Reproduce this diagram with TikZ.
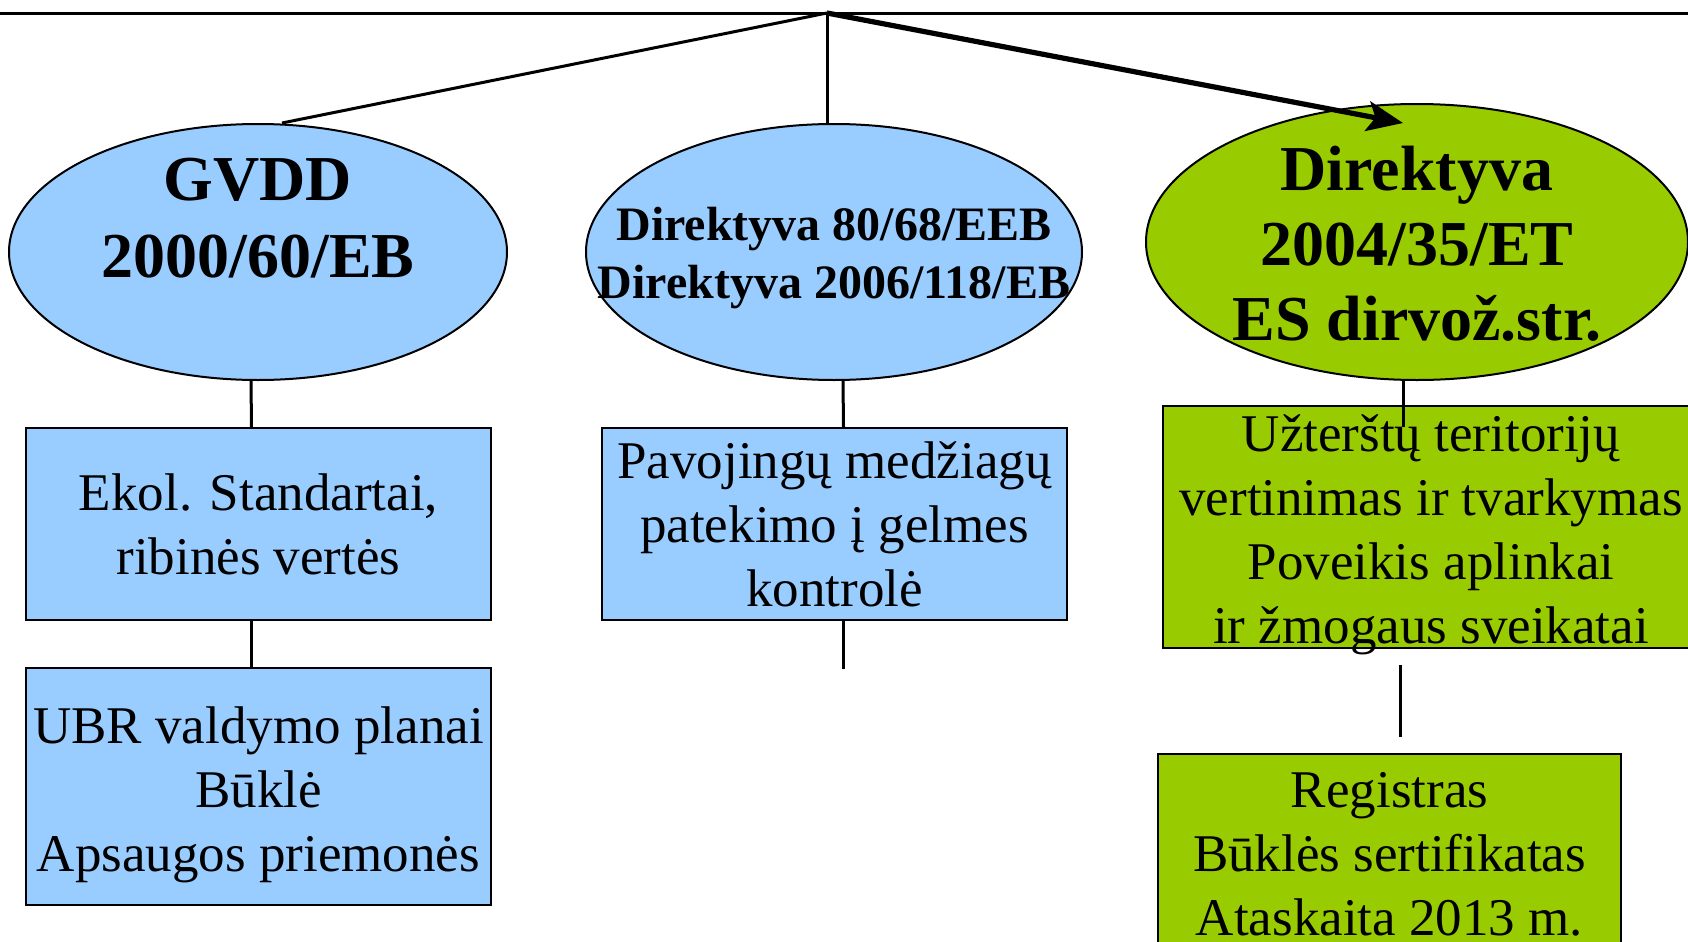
\documentclass[tikz,border=0pt]{standalone}
\usepackage{fontspec}
\setmainfont{Liberation Serif}
\usetikzlibrary{shapes.geometric,arrows.meta}
\definecolor{skyblue}{HTML}{99CCFF}
\definecolor{leafgreen}{HTML}{99CC00}
\begin{document}
\begin{tikzpicture}[x=0.5pt,y=-0.5pt,line width=1.5pt,
    directive/.style={ellipse, draw, line width=1pt, inner sep=0pt},
    textbox/.style={rectangle, draw, line width=1.2pt, inner sep=0pt, align=center,
        font=\fontsize{26.5}{32}\selectfont},
    boxtext/.style={align=center, font=\fontsize{26.5}{32}\selectfont, yshift=-4pt},
    bigtitle/.style={align=center, font=\bfseries\fontsize{32}{38.5}\selectfont}]
    \useasboundingbox (0,0) rectangle (1688,942);
    % top rail
    \coordinate (RailL) at (0,13);
    \coordinate (RailR) at (1688,13);
    \coordinate (Top) at (827,13);
    \draw (RailL) -- (RailR);
    % directives
    \node[directive, fill=skyblue, minimum width=249pt, minimum height=128pt,
        label={[bigtitle, yshift=17pt]center:{GVDD\\2000/60/EB}}] (GVDD) at (258,252) {};
    \node[directive, fill=skyblue, minimum width=248pt, minimum height=128pt,
        label={[align=center, yshift=-3pt, font=\bfseries\fontsize{24}{29}\selectfont]center:{Direktyva 80/68/EEB\\Direktyva 2006/118/EB}}] (Dir80) at (834,252) {};
    \node[directive, fill=leafgreen, minimum width=271pt, minimum height=138pt,
        label={[bigtitle, yshift=-1pt, font=\bfseries\fontsize{32}{37.5}\selectfont]center:{Direktyva\\2004/35/ET\\ES dirvož.str.}}] (Dir04) at (1417,242) {};
    % boxes
    \node[textbox, fill=skyblue, minimum width=232.5pt, minimum height=96pt] (Ekol) at (258.5,524) {Ekol. Standartai,\\ribinės vertės};
    \node[textbox, fill=skyblue, minimum width=232.5pt, minimum height=118.5pt,
        label={[boxtext]center:{UBR valdymo planai\\Būklė\\Apsaugos priemonės}}] (UBR) at (258.5,786.5) {};
    \node[textbox, fill=skyblue, minimum width=232.5pt, minimum height=96pt] (Pav) at (834.5,524) {Pavojingų medžiagų\\patekimo į gelmes\\kontrolė};
    \node[textbox, fill=leafgreen, minimum width=268pt, minimum height=121pt,
        label={[boxtext]center:{Užterštų teritorijų\\vertinimas ir tvarkymas\\Poveikis aplinkai\\ir žmogaus sveikatai}}] (Soil) at (1431,527) {};
    \node[textbox, fill=leafgreen, minimum width=231.5pt, minimum height=100pt] (Reg) at (1389.5,854) {Registras\\Būklės sertifikatas\\Ataskaita 2013 m.};
    % connectors
    \draw (Top) -- ([xshift=12pt]GVDD.north);
    \draw (Top) -- (Top |- Dir80.north);
    \draw[line width=2.6pt, -{Stealth[length=18pt,width=15pt,inset=4pt]}] (Top) -- ([xshift=-7pt,yshift=-10pt]Dir04.north);
    \draw ([xshift=-3.5pt]GVDD.south) -- ([xshift=-3.5pt]Ekol.north);
    \draw ([xshift=-3.5pt]Ekol.south) -- ([xshift=-3.5pt]UBR.north);
    \draw ([xshift=4.5pt]Dir80.south) -- ([xshift=4.5pt]Pav.north);
    \draw ([xshift=4.5pt]Pav.south) -- ++(0,48);
    \draw ([xshift=-7pt]Dir04.south) -- ++(0,46);
    \draw ([xshift=-15.5pt,yshift=-8pt]Soil.south) -- ([xshift=-15.5pt,yshift=8pt]Soil.south |- Reg.north);
\end{tikzpicture}
\end{document}
